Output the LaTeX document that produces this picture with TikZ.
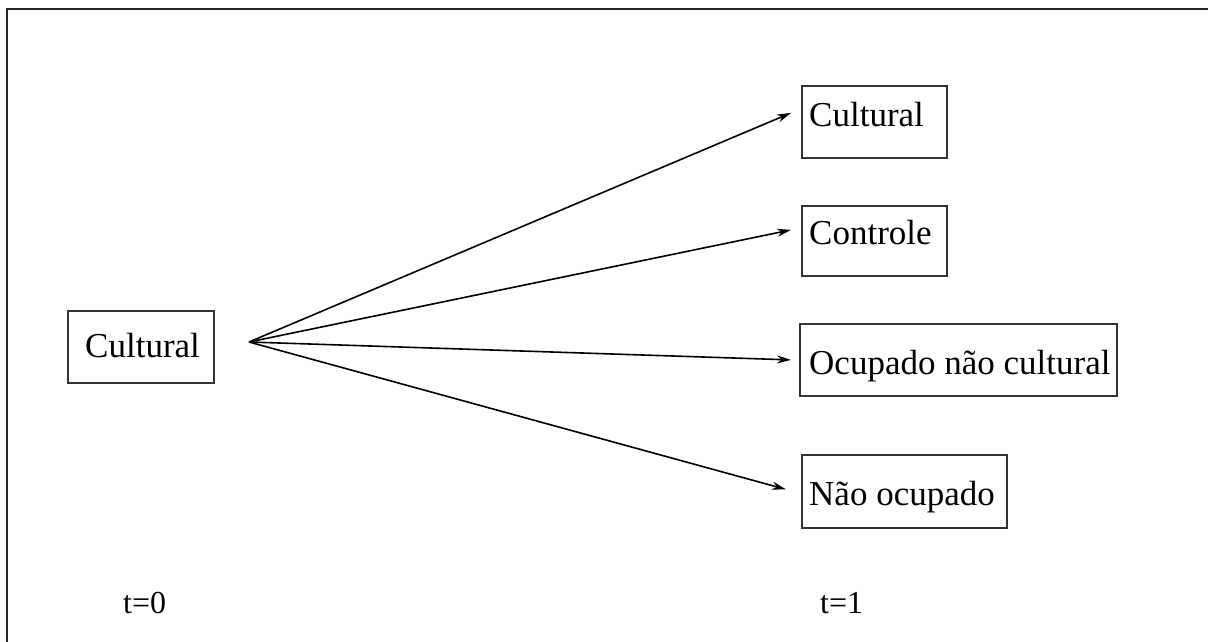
\documentclass[tikz,border=0pt]{standalone}
\usepackage{fontspec}
\setmainfont{Liberation Serif}
\usetikzlibrary{arrows.meta}
\begin{document}
\begin{tikzpicture}[x=1pt,y=-1pt,
  box/.style={draw=black!80,line width=1.8pt,rectangle,inner sep=0pt,anchor=north west},
  lbl/.style={inner sep=0pt,anchor=base west,font=\fontsize{35}{42}\selectfont},
  tlbl/.style={inner sep=0pt,anchor=base west,font=\fontsize{32}{38}\selectfont},
  arr/.style={line width=1.6pt,-{Stealth[length=14pt,width=8pt]}},
  frame/.style={line width=2.6pt,black!85}]
\useasboundingbox (0,0) rectangle (1208,642);
\draw[frame] (7,642) -- (7,9) -- (1208,9);
% boxes
\node[box,minimum width=146pt,minimum height=72pt] (b0) at (67,310) {};
\node[box,minimum width=145pt,minimum height=72pt] (b1) at (801,85) {};
\node[box,minimum width=145pt,minimum height=70pt] (b2) at (801,205) {};
\node[box,minimum width=317pt,minimum height=72pt] (b3) at (799,323) {};
\node[box,minimum width=205pt,minimum height=73pt] (b4) at (801,454) {};
% texts
\node[lbl] (t0) at (85,357) {Cultural};
\node[lbl] (t1) at (809,126) {Cultural};
\node[lbl] (t2) at (809,244) {Controle};
\node[lbl] (t3) at (809,374) {Ocupado não cultural};
\node[lbl] (t4) at (809,505) {Não ocupado};
\node[tlbl] (tz) at (123,613) {t=0};
\node[tlbl] (to) at (820,613) {t=1};
% arrows
\coordinate (o) at (249,342);
\draw[arr] (o) -- ([xshift=-10pt,yshift=9pt]b1.west);
\draw[arr] (o) -- ([xshift=-10pt,yshift=11pt]b2.west);
\draw[arr] (o) -- ([xshift=-8pt,yshift=0pt]b3.west);
\draw[arr] (o) -- ([xshift=-15pt,yshift=2pt]b4.west);
\end{tikzpicture}
\end{document}
